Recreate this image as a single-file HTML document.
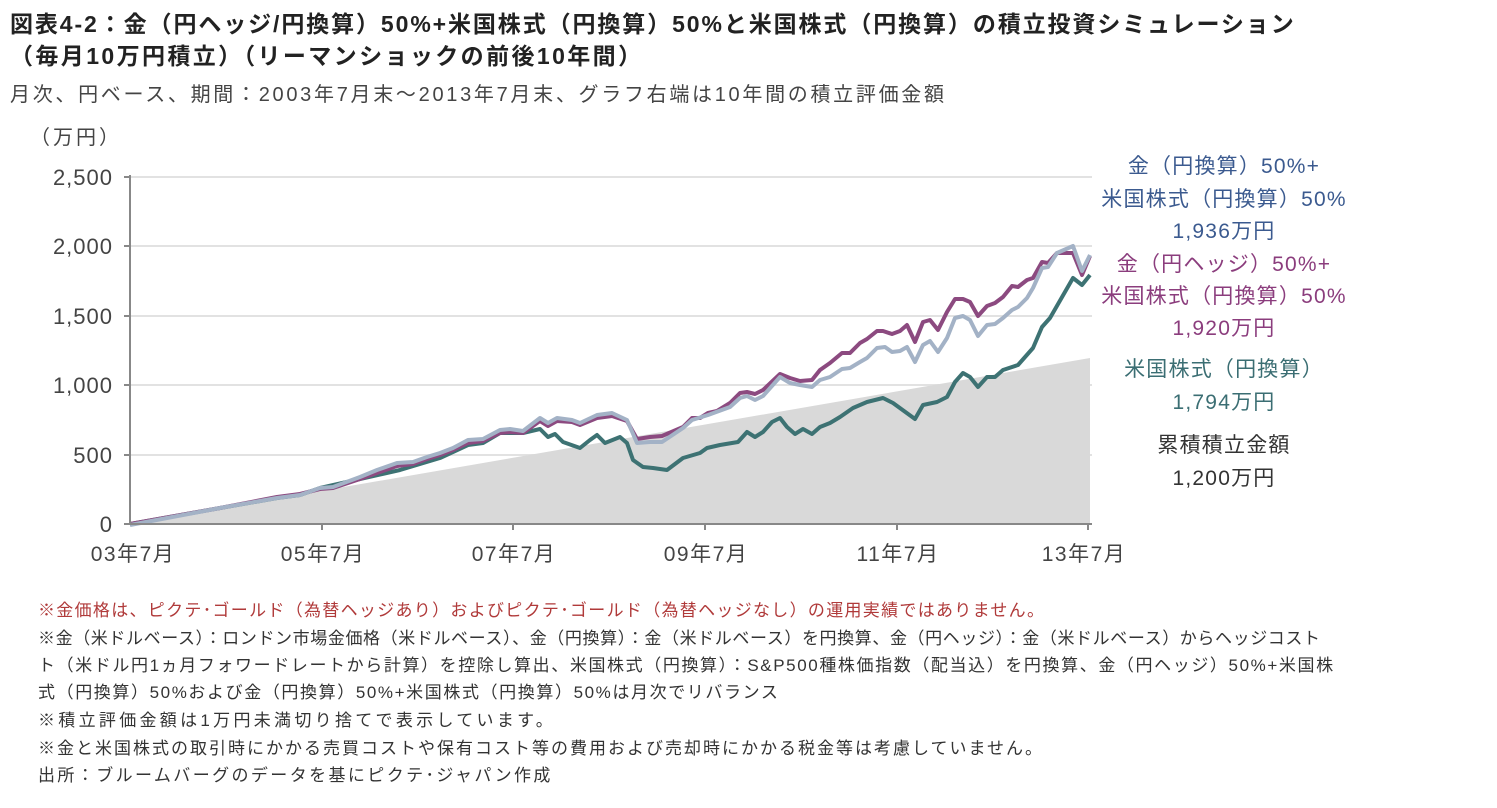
<!DOCTYPE html>
<html><head><meta charset="utf-8"><style>
body{margin:0;width:1497px;height:808px;background:#fff;font-family:"Liberation Sans","Noto Sans CJK JP",sans-serif;position:relative;overflow:hidden}
.t{position:absolute;white-space:nowrap}
.f{font-size:17px;letter-spacing:0.9px;color:#333;left:38px}
</style></head><body>
<div class="t" style="left:10px;top:5px;font-size:23px;letter-spacing:1.9px;font-weight:bold;color:#222">図表4-2：金（円ヘッジ/円換算）50%+米国株式（円換算）50%と米国株式（円換算）の積立投資シミュレーション</div>
<div class="t" style="left:10px;top:37px;font-size:23px;letter-spacing:2.4px;font-weight:bold;color:#222">（毎月10万円積立）（リーマンショックの前後10年間）</div>
<div class="t" style="left:10px;top:78px;font-size:20px;letter-spacing:2.7px;color:#444">月次、円ベース、期間：2003年7月末～2013年7月末、グラフ右端は10年間の積立評価金額</div>
<div class="t" style="left:30px;top:121px;font-size:20px;letter-spacing:3px;color:#444">（万円）</div>
<svg width="1497" height="808" style="position:absolute;left:0;top:0" font-family="Liberation Sans, Noto Sans CJK JP, sans-serif">
<g stroke="#e2e2e2" stroke-width="2">
<line x1="130" x2="1092" y1="177" y2="177"/><line x1="130" x2="1092" y1="246" y2="246"/><line x1="130" x2="1092" y1="316" y2="316"/><line x1="130" x2="1092" y1="385" y2="385"/><line x1="130" x2="1092" y1="455" y2="455"/>
</g>
<polygon fill="#d9d9d9" points="130,524 1090,358 1090,524"/>
<g fill="none" stroke-width="4" stroke-linejoin="round">
<polyline stroke="#3d7273" points="130,524 220,508 277,498 300,495 320,488 360,479 400,470 440,458 468,445 483,443 500,433 510,433 523,433 540,429 548,437 555,434 563,442 580,448 590,440 597,435 605,443 620,437 627,443 633,460 643,467 653,468 667,470 683,458 700,453 707,448 720,445 738,442 747,432 755,437 763,432 772,422 780,418 787,427 795,434 803,429 812,434 820,427 830,423 840,417 853,408 867,402 883,398 893,403 915,419 923,405 937,402 947,397 955,382 963,373 970,377 978,387 987,377 995,377 1003,370 1018,365 1033,348 1042,327 1050,318 1073,278 1082,285 1090,275"/>
<polyline stroke="#8c4a80" points="130,524 220,508 277,497 300,494 320,489 333,488 360,479 377,473 397,466 413,464 427,459 440,455 453,450 468,443 483,441 500,433 510,432 523,433 540,421 548,426 557,421 572,422 580,425 597,418 612,416 627,421 637,439 650,437 662,436 683,427 692,418 700,418 708,413 717,411 730,403 740,393 747,392 755,394 763,390 780,374 790,378 800,381 812,380 820,370 830,363 842,353 850,353 860,343 867,339 877,331 883,331 892,334 900,331 907,325 915,342 923,322 930,320 938,330 947,312 955,299 963,299 970,302 978,316 987,306 995,303 1003,297 1012,286 1018,287 1027,280 1033,278 1042,262 1048,263 1057,253 1073,253 1082,275 1090,256"/>
<polyline stroke="#a3b2c6" points="130,525 220,508 277,498 300,495 320,488 333,487 360,477 377,470 397,463 413,462 427,457 440,453 453,448 468,440 483,439 500,430 510,429 523,431 540,418 548,423 557,418 572,420 580,423 597,415 612,413 627,420 637,443 650,442 662,442 683,428 692,420 708,415 730,407 740,398 747,396 755,400 763,396 780,377 790,383 800,385 812,387 820,380 830,377 842,369 850,368 860,362 867,358 877,348 885,347 892,352 900,351 907,347 915,362 923,345 930,341 938,352 947,338 955,318 963,316 970,320 978,336 987,325 995,324 1003,318 1012,310 1018,307 1027,298 1033,288 1042,268 1048,267 1057,253 1073,246 1082,271 1090,255"/>
</g>
<g stroke="#888" stroke-width="2">
<line x1="130" y1="175" x2="130" y2="525"/><line x1="130" y1="524" x2="1092" y2="524"/>
<line x1="124" x2="130" y1="177" y2="177"/><line x1="124" x2="130" y1="246" y2="246"/><line x1="124" x2="130" y1="316" y2="316"/><line x1="124" x2="130" y1="385" y2="385"/><line x1="124" x2="130" y1="455" y2="455"/><line x1="124" x2="130" y1="524" y2="524"/>
<line x1="322" x2="322" y1="524" y2="530"/><line x1="513" x2="513" y1="524" y2="530"/><line x1="705" x2="705" y1="524" y2="530"/><line x1="897" x2="897" y1="524" y2="530"/><line x1="1088" x2="1088" y1="524" y2="530"/>
</g>
<g font-size="22" fill="#444" text-anchor="end" letter-spacing="1">
<text x="113" y="185">2,500</text><text x="113" y="254">2,000</text><text x="113" y="324">1,500</text><text x="113" y="393">1,000</text><text x="113" y="463">500</text><text x="113" y="532">0</text>
</g>
<g font-size="21" fill="#444" text-anchor="middle" letter-spacing="1.5">
<text x="133" y="561">03年7月</text><text x="323" y="561">05年7月</text><text x="514" y="561">07年7月</text><text x="706" y="561">09年7月</text><text x="898" y="561">11年7月</text><text x="1084" y="561">13年7月</text>
</g>
<g font-size="21" text-anchor="middle" letter-spacing="1.2">
<text x="1224" y="173" fill="#3b5a8f">金（円換算）50%+</text>
<text x="1224" y="206" fill="#3b5a8f">米国株式（円換算）50%</text>
<text x="1224" y="238" fill="#3b5a8f">1,936万円</text>
<text x="1224" y="271" fill="#8b3d7d">金（円ヘッジ）50%+</text>
<text x="1224" y="303" fill="#8b3d7d">米国株式（円換算）50%</text>
<text x="1224" y="335" fill="#8b3d7d">1,920万円</text>
<text x="1224" y="376" fill="#3b6e73">米国株式（円換算）</text>
<text x="1224" y="409" fill="#3b6e73">1,794万円</text>
<text x="1224" y="452" fill="#333">累積積立金額</text>
<text x="1224" y="485" fill="#333">1,200万円</text>
</g>
</svg>
<div class="t f" style="top:596px;color:#b03a3a;letter-spacing:1.3px">※金価格は、ピクテ･ゴールド（為替ヘッジあり）およびピクテ･ゴールド（為替ヘッジなし）の運用実績ではありません。</div>
<div class="t f" style="top:624px;letter-spacing:0.6px">※金（米ドルベース）：ロンドン市場金価格（米ドルベース）、金（円換算）：金（米ドルベース）を円換算、金（円ヘッジ）：金（米ドルベース）からヘッジコスト</div>
<div class="t f" style="top:651px;letter-spacing:1.6px">ト（米ドル円1ヵ月フォワードレートから計算）を控除し算出、米国株式（円換算）：S&amp;P500種株価指数（配当込）を円換算、金（円ヘッジ）50%+米国株</div>
<div class="t f" style="top:678px;letter-spacing:1.6px">式（円換算）50%および金（円換算）50%+米国株式（円換算）50%は月次でリバランス</div>
<div class="t f" style="top:706px;letter-spacing:3.3px">※積立評価金額は1万円未満切り捨てで表示しています。</div>
<div class="t f" style="top:734px;letter-spacing:2px">※金と米国株式の取引時にかかる売買コストや保有コスト等の費用および売却時にかかる税金等は考慮していません。</div>
<div class="t f" style="top:761px;letter-spacing:2.4px">出所：ブルームバーグのデータを基にピクテ･ジャパン作成</div>
</body></html>
